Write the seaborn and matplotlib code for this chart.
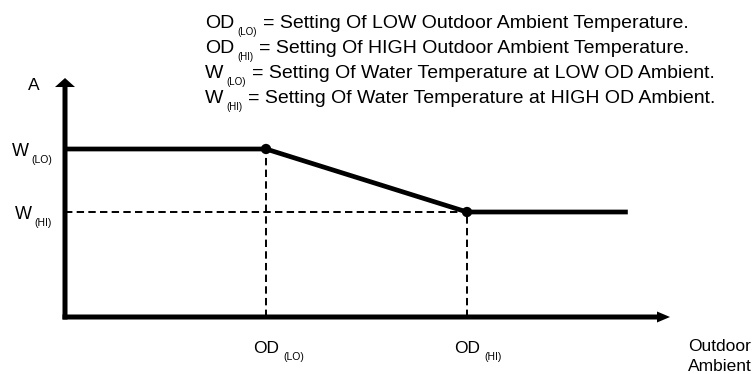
import matplotlib
matplotlib.use("Agg")
import matplotlib.pyplot as plt
import matplotlib.transforms as mtransforms
import seaborn as sns

# Outdoor ambient break points and the water set points tied to them
OD_LO, OD_HI = 10, 20
W_LO, W_HI = 80, 50
ambient = [0, OD_LO, OD_HI, 28]
water = [W_LO, W_LO, W_HI, W_HI]
knee_ambient = [OD_LO, OD_HI]
knee_water = [W_LO, W_HI]

# where the axis arrows end
AMBIENT_MAX = 30.1
WATER_MAX = 113.8

x_tick_labels = [("OD", "(LO)"), ("OD", "(HI)")]
y_tick_labels = [("W", "(LO)"), ("W", "(HI)")]
y_axis_title = "A"
x_axis_title = ["Outdoor", "Ambient"]

legend_rows = [
    ("OD", "(LO)", "= Setting Of LOW Outdoor Ambient Temperature."),
    ("OD", "(HI)", "= Setting Of HIGH Outdoor Ambient Temperature."),
    ("W", "(LO)", "= Setting Of Water Temperature at LOW OD Ambient."),
    ("W", "(HI)", "= Setting Of Water Temperature at HIGH OD Ambient."),
]

WIDTH_PX, HEIGHT_PX, DPI = 755, 374, 100
sns.set_style("white")
plt.rcParams["font.family"] = ["Liberation Sans", "DejaVu Sans"]
plt.rcParams["text.color"] = "black"

fig = plt.figure(figsize=(WIDTH_PX / DPI, HEIGHT_PX / DPI), dpi=DPI)
ax = fig.add_axes([0, 0, 1, 1])

# pixel scale of the data axes
X0_PX, X_SCALE = 65, 20.1          # origin column, px per ambient unit
Y0_PX, Y_SCALE = 374 - 317, 2.1    # origin row (from bottom), px per water unit
ax.set_xlim(-X0_PX / X_SCALE, (WIDTH_PX - X0_PX) / X_SCALE)
ax.set_ylim(-Y0_PX / Y_SCALE, (HEIGHT_PX - Y0_PX) / Y_SCALE)
ax.axis("off")

# pixel transform measured from the top-left corner of the figure
px = mtransforms.Affine2D().scale(1 / WIDTH_PX, -1 / HEIGHT_PX).translate(0, 1) + fig.transFigure

# dashed guides from the break points to the axes
guide = dict(color="black", lw=1.4, linestyle=(0, (3.8, 2.2)), zorder=1)
ax.plot([OD_LO, OD_LO], [0, W_LO], **guide)
ax.plot([OD_HI, OD_HI], [0, W_HI], **guide)
ax.plot([0, OD_HI], [W_HI, W_HI], **guide)

# the reset curve and its break points
sns.lineplot(x=ambient, y=water, color="black", lw=3.4, ax=ax, zorder=3,
             solid_joinstyle="miter", solid_capstyle="butt")
sns.scatterplot(x=knee_ambient, y=knee_water, color="black", s=55, ax=ax,
                zorder=4, edgecolor="none")

# axes drawn as arrows
shaft_px = 5
ax.arrow(-shaft_px / 2 / X_SCALE, 0, AMBIENT_MAX + shaft_px / 2 / X_SCALE, 0,
         width=shaft_px / Y_SCALE, head_width=11 / Y_SCALE, head_length=13 / X_SCALE,
         length_includes_head=True, color="black", lw=0, zorder=5)
ax.arrow(0, -shaft_px / 2 / Y_SCALE, 0, WATER_MAX + shaft_px / 2 / Y_SCALE,
         width=shaft_px / X_SCALE, head_width=20 / X_SCALE, head_length=9 / Y_SCALE,
         length_includes_head=True, color="black", lw=0, zorder=5)

MAIN, SUB = 12.5, 7.5


def label(xy, xycoords, offset, main, sub, size=MAIN, subsize=SUB, gap=3, drop=7):
    t = ax.annotate(main, xy=xy, xycoords=xycoords, xytext=offset,
                    textcoords="offset pixels", fontsize=size,
                    ha="left", va="baseline")
    s = ax.annotate(sub, xy=(1, xy[1]), xycoords=(t, xycoords),
                    xytext=(gap, offset[1] - drop), textcoords="offset pixels",
                    fontsize=subsize, ha="left", va="baseline")
    return t, s


# ambient break point labels under the x axis
for xv, (m, s) in zip([OD_LO, OD_HI], x_tick_labels):
    label((xv, 0), "data", (-13, -36), m, s, gap=4, drop=7)

# water set point labels left of the y axis
for yv, (m, s), dx in zip([W_LO, W_HI], y_tick_labels, [-53, -50]):
    label((0, yv), "data", (dx, -7), m, s, size=13, subsize=7.5, gap=2, drop=7)

ax.text(28, 90, y_axis_title, transform=px, fontsize=MAIN, ha="left", va="baseline")
ax.text(688, 351, x_axis_title[0], transform=px, fontsize=MAIN, ha="left", va="baseline")
ax.text(688, 371, x_axis_title[1], transform=px, fontsize=MAIN, ha="left", va="baseline")

# definitions block
for i, (m, s, rest) in enumerate(legend_rows):
    base = 28 + 25 * i
    t, sub = label((205, base), px, (0, 0), m, s, size=14, subsize=7, gap=3, drop=7)
    ax.annotate(rest, xy=(1, base), xycoords=(sub, px), xytext=(6, 0),
                textcoords="offset pixels", fontsize=14, ha="left", va="baseline")

fig.savefig("out.png", dpi=DPI)
